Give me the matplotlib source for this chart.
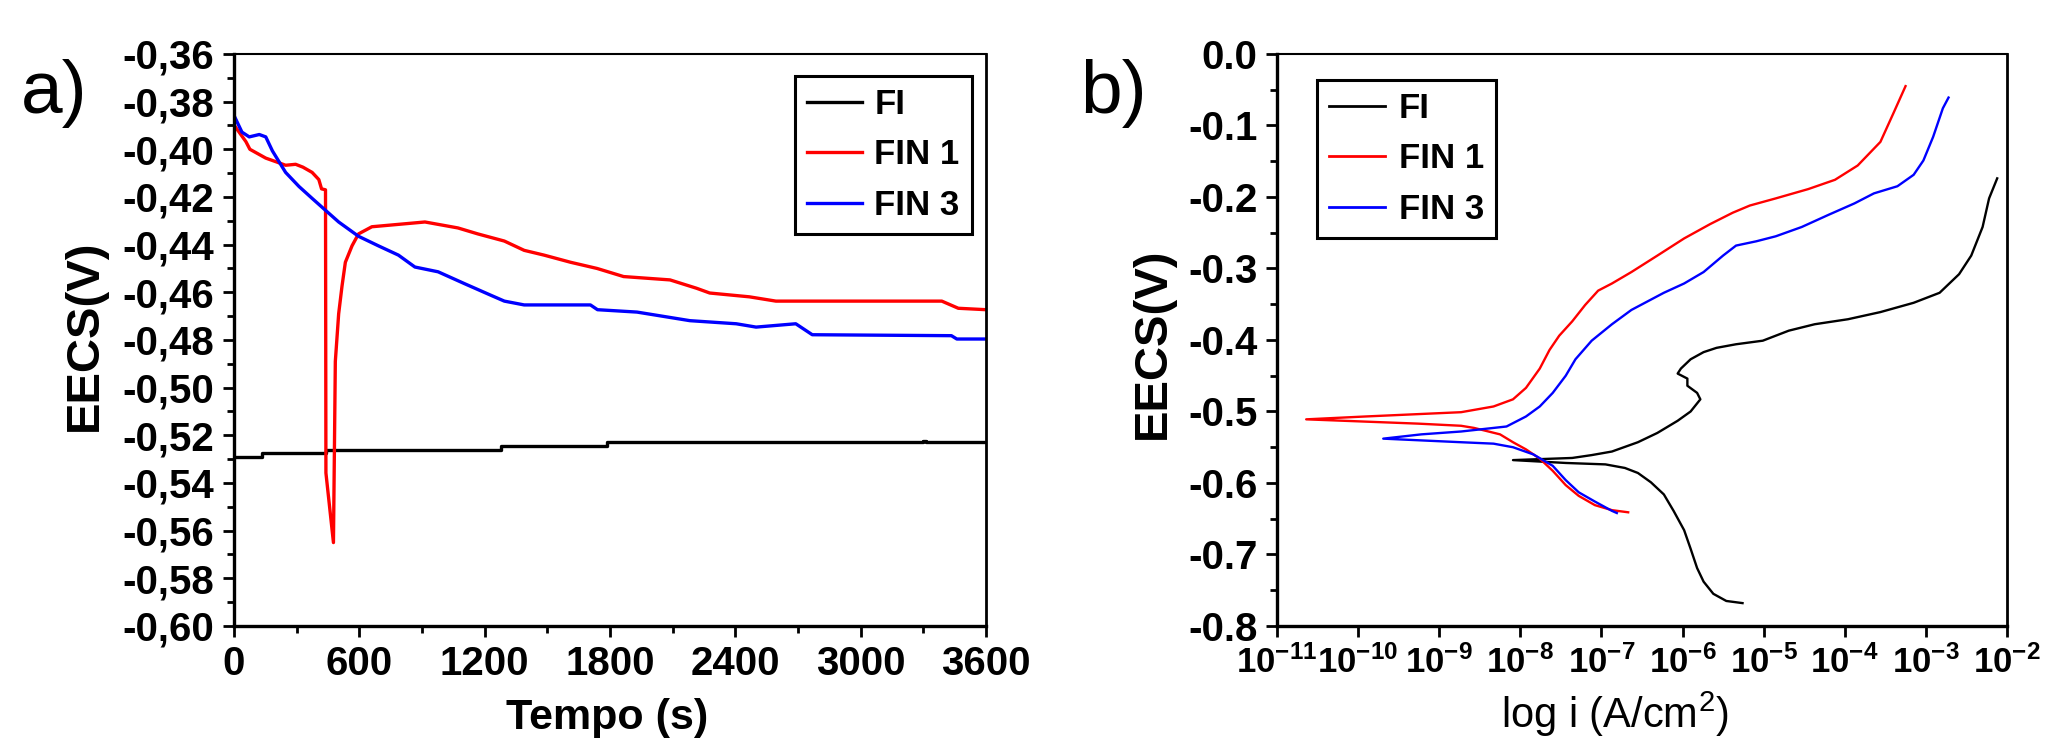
import numpy as np
import matplotlib.pyplot as plt
from matplotlib.ticker import MultipleLocator, FuncFormatter, LogLocator, NullLocator

plt.rcParams['font.family'] = ['Liberation Sans', 'DejaVu Sans']
plt.rcParams['axes.unicode_minus'] = False
plt.rcParams['mathtext.fontset'] = 'custom'
plt.rcParams['mathtext.rm'] = 'Liberation Sans'
plt.rcParams['mathtext.bf'] = 'Liberation Sans:bold'

# a) potenziale a circuito aperto vs tempo
t_fi = [0, 136, 438, 1278, 1786, 3300, 3310, 3600]
e_fi = [-0.529, -0.5275, -0.526, -0.5245, -0.523, -0.5225, -0.523, -0.523]

t_fin1 = [0, 57, 76, 152, 216, 247, 295, 330, 374, 406, 419, 438, 440, 476, 485,
          501, 517, 533, 565, 596, 660, 914, 1072, 1167, 1294, 1389, 1484, 1611,
          1738, 1865, 2087, 2214, 2277, 2467, 2594, 3388, 3467, 3600]
e_fin1 = [-0.3898, -0.3968, -0.400, -0.4037, -0.4057, -0.4067, -0.4063, -0.4075,
          -0.4097, -0.4127, -0.4166, -0.417, -0.5358, -0.565, -0.489, -0.469,
          -0.4574, -0.4474, -0.4405, -0.4355, -0.4325, -0.4305, -0.433, -0.4355,
          -0.4385, -0.4424, -0.4444, -0.4474, -0.450, -0.4534, -0.4548, -0.4583,
          -0.4603, -0.4619, -0.4637, -0.4637, -0.4667, -0.4673]

t_fin3 = [0, 38, 73, 121, 152, 184, 247, 311, 374, 438, 501, 596, 691, 787, 866,
          977, 1104, 1231, 1294, 1389, 1706, 1740, 1929, 2182, 2404, 2499, 2689,
          2768, 3434, 3460, 3600]
e_fin3 = [-0.3858, -0.3928, -0.3948, -0.3938, -0.3948, -0.4007, -0.4097, -0.4156,
          -0.4206, -0.4256, -0.4305, -0.4365, -0.4405, -0.4444, -0.4494, -0.4514,
          -0.4564, -0.4613, -0.4637, -0.4653, -0.4653, -0.4673, -0.4683, -0.4719,
          -0.4732, -0.4746, -0.4732, -0.4778, -0.4782, -0.4796, -0.4796]

# b) curve di polarizzazione (log10 i, E)
logi_fi = [-2.12, -2.22, -2.30, -2.44, -2.59, -2.83, -3.15, -3.56, -3.96, -4.37,
           -4.69, -5.01, -5.34, -5.58, -5.74, -5.90, -6.02, -6.06, -5.94, -5.94,
           -5.82, -5.78, -5.90, -6.06, -6.31, -6.55, -6.87, -7.12, -7.36, -8.09,
           -7.44, -6.95, -6.71, -6.55, -6.39, -6.23, -6.11, -5.98, -5.90, -5.82,
           -5.74, -5.62, -5.46, -5.26]
e_fi_pol = [-0.174, -0.202, -0.242, -0.282, -0.308, -0.334, -0.348, -0.361, -0.371,
            -0.378, -0.387, -0.401, -0.406, -0.411, -0.417, -0.427, -0.440, -0.447,
            -0.454, -0.464, -0.474, -0.483, -0.500, -0.513, -0.530, -0.543, -0.556,
            -0.561, -0.565, -0.568, -0.572, -0.574, -0.579, -0.586, -0.599, -0.616,
            -0.639, -0.666, -0.692, -0.719, -0.738, -0.755, -0.765, -0.768]

logi_fin1 = [-3.25, -3.40, -3.56, -3.84, -4.12, -4.45, -4.85, -5.17, -5.38, -5.66,
             -5.98, -6.31, -6.63, -6.87, -7.04, -7.20, -7.36, -7.52, -7.64, -7.76,
             -7.93, -8.09, -8.33, -8.73, -9.91, -10.64, -9.26, -8.73, -8.57, -8.25,
             -8.09, -7.93, -7.76, -7.60, -7.44, -7.28, -7.08, -6.87, -6.67]
e_fin1_pol = [-0.045, -0.083, -0.123, -0.156, -0.176, -0.189, -0.202, -0.212, -0.222,
              -0.238, -0.258, -0.282, -0.305, -0.321, -0.331, -0.351, -0.374, -0.394,
              -0.414, -0.440, -0.467, -0.483, -0.493, -0.501, -0.507, -0.511, -0.517,
              -0.520, -0.523, -0.532, -0.543, -0.553, -0.566, -0.583, -0.603, -0.618,
              -0.631, -0.638, -0.641]

logi_fin3 = [-2.72, -2.79, -2.91, -3.03, -3.15, -3.35, -3.64, -3.88, -4.20, -4.53,
             -4.85, -5.09, -5.34, -5.50, -5.74, -5.98, -6.23, -6.63, -6.87, -7.12,
             -7.32, -7.44, -7.60, -7.76, -7.93, -8.17, -8.73, -9.22, -9.69, -8.73,
             -8.33, -8.09, -7.84, -7.60, -7.44, -7.28, -7.08, -6.87, -6.81]
e_fin3_pol = [-0.061, -0.076, -0.116, -0.149, -0.169, -0.185, -0.195, -0.209, -0.225,
              -0.242, -0.255, -0.262, -0.268, -0.282, -0.305, -0.321, -0.334, -0.358,
              -0.378, -0.401, -0.427, -0.450, -0.474, -0.493, -0.507, -0.521, -0.528,
              -0.532, -0.538, -0.543, -0.545, -0.550, -0.560, -0.576, -0.596, -0.613,
              -0.626, -0.639, -0.642]

etichette = ["FI", "FIN 1", "FIN 3"]
colori = ['black', '#ff0000', '#0000ff']

fig = plt.figure(figsize=(20.69, 7.41), dpi=100)
ax1 = fig.add_axes([0.1131, 0.1552, 0.3635, 0.772])
ax2 = fig.add_axes([0.6172, 0.1552, 0.3528, 0.772])


def stile_assi(ax):
    ax.spines['left'].set_linewidth(2.4)
    ax.spines['bottom'].set_linewidth(2.4)
    ax.spines['right'].set_linewidth(2.0)
    ax.spines['top'].set_linewidth(1.5)
    ax.tick_params(which='major', direction='out', length=8, width=2,
                   labelsize=29, pad=6)
    ax.tick_params(which='minor', direction='out', length=5, width=2)
    for lab in ax.get_xticklabels() + ax.get_yticklabels():
        lab.set_fontweight('bold')


# pannello a)
ax1.plot(t_fi, e_fi, color=colori[0], lw=2.4, drawstyle='steps-post', label=etichette[0])
ax1.plot(t_fin1, e_fin1, color=colori[1], lw=2.4, label=etichette[1])
ax1.plot(t_fin3, e_fin3, color=colori[2], lw=2.4, label=etichette[2])
ax1.set_xlim(0, 3600)
ax1.set_ylim(-0.60, -0.36)
ax1.xaxis.set_major_locator(MultipleLocator(600))
ax1.xaxis.set_minor_locator(MultipleLocator(300))
ax1.yaxis.set_major_locator(MultipleLocator(0.02))
ax1.yaxis.set_minor_locator(MultipleLocator(0.01))
ax1.yaxis.set_major_formatter(FuncFormatter(lambda v, p: ("%.2f" % v).replace('.', ',')))
stile_assi(ax1)
ax1.set_xlabel("Tempo (s)", fontsize=31, fontweight='bold')
ax1.xaxis.set_label_coords(0.496, -0.125)
ax1.set_ylabel("EECS(V)", fontsize=34, fontweight='bold')
ax1.yaxis.set_label_coords(-0.169, 0.509)
leg1 = ax1.legend(loc='upper right', bbox_to_anchor=(0.981, 0.9615), borderaxespad=0,
                  fancybox=False, edgecolor='black', framealpha=1,
                  prop={'size': 25, 'weight': 'bold'}, handlelength=1.6,
                  handletextpad=0.35, labelspacing=0.5, borderpad=0.35)
leg1.get_frame().set_linewidth(2.2)
for l in leg1.get_lines():
    l.set_linewidth(2.4)

# pannello b)
ax2.plot(np.power(10.0, logi_fi), e_fi_pol, color=colori[0], lw=1.7, label=etichette[0])
ax2.plot(np.power(10.0, logi_fin1), e_fin1_pol, color=colori[1], lw=1.7, label=etichette[1])
ax2.plot(np.power(10.0, logi_fin3), e_fin3_pol, color=colori[2], lw=1.7, label=etichette[2])
ax2.set_xscale('log')
ax2.set_xlim(1e-11, 1e-2)
ax2.set_ylim(-0.8, 0.0)
ax2.xaxis.set_major_locator(LogLocator(base=10, numticks=20))
ax2.xaxis.set_minor_locator(NullLocator())
ax2.xaxis.set_major_formatter(FuncFormatter(lambda v, p: r"$\mathbf{10^{%d}}$" % round(np.log10(v))))
ax2.yaxis.set_major_locator(MultipleLocator(0.1))
ax2.yaxis.set_minor_locator(MultipleLocator(0.05))
ax2.yaxis.set_major_formatter(FuncFormatter(lambda v, p: "%.1f" % v if abs(v) > 1e-9 else "0.0"))
stile_assi(ax2)
ax2.tick_params(axis='x', which='major', labelsize=25)
ax2.set_xlabel("log i (A/cm$^2$)", fontsize=30)
ax2.xaxis.set_label_coords(0.463, -0.112)
ax2.set_ylabel("EECS(V)", fontsize=34, fontweight='bold')
ax2.yaxis.set_label_coords(-0.14, 0.495)
leg2 = ax2.legend(loc='upper left', bbox_to_anchor=(0.055, 0.9545), borderaxespad=0,
                  fancybox=False, edgecolor='black', framealpha=1,
                  prop={'size': 25, 'weight': 'bold'}, handlelength=1.6,
                  handletextpad=0.4, labelspacing=0.5, borderpad=0.35)
leg2.get_frame().set_linewidth(2.2)
for l in leg2.get_lines():
    l.set_linewidth(2.0)

fig.text(0.0101, 0.8475, "a)", fontsize=54, va='baseline', ha='left')
fig.text(0.522, 0.8475, "b)", fontsize=54, va='baseline', ha='left')

fig.savefig("out.png", dpi=100)
plt.close(fig)
